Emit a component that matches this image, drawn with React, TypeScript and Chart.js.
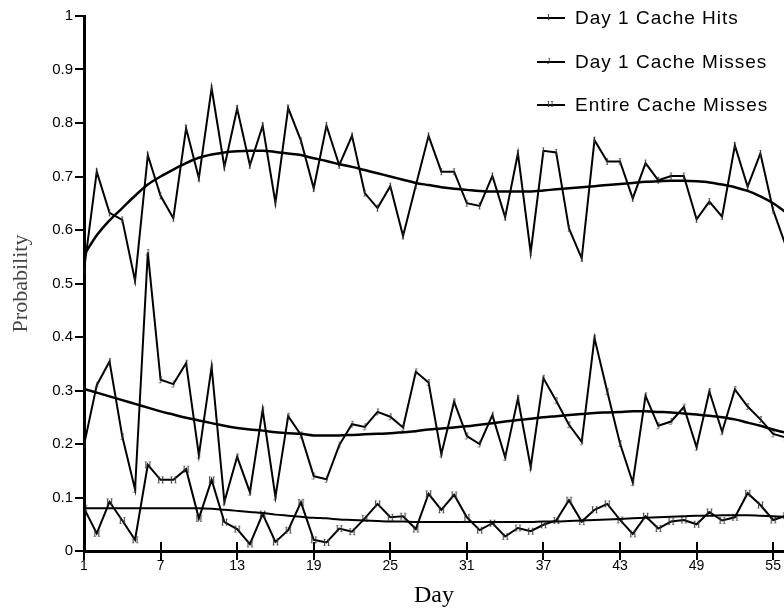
import React, { useEffect, useRef } from 'react';
import { Chart, registerables } from 'chart.js';

Chart.register(...registerables);

const DAYS = [1, 2, 3, 4, 5, 6, 7, 8, 9, 10, 11, 12, 13, 14, 15, 16, 17, 18, 19, 20, 21, 22, 23, 24, 25, 26, 27, 28, 29, 30, 31, 32, 33, 34, 35, 36, 37, 38, 39, 40, 41, 42, 43, 44, 45, 46, 47, 48, 49, 50, 51, 52, 53, 54, 55, 56];
const X_TICKS = [1, 7, 13, 19, 25, 31, 37, 43, 49, 55];
const Y_TICKS = [0, 0.1, 0.2, 0.3, 0.4, 0.5, 0.6, 0.7, 0.8, 0.9, 1];

const LABELS = ['Day 1 Cache Hits', 'Day 1 Cache Misses', 'Entire Cache Misses'];
const MARKERS = ['I', 'J', 'H'];

const HITS = [0.525, 0.709, 0.632, 0.619, 0.505, 0.74, 0.664, 0.622, 0.79, 0.697, 0.865, 0.718, 0.827, 0.721, 0.795, 0.651, 0.828, 0.767, 0.678, 0.795, 0.721, 0.776, 0.669, 0.641, 0.682, 0.589, 0.683, 0.776, 0.709, 0.709, 0.65, 0.645, 0.701, 0.624, 0.743, 0.558, 0.748, 0.745, 0.603, 0.547, 0.768, 0.728, 0.728, 0.659, 0.725, 0.693, 0.701, 0.701, 0.62, 0.653, 0.625, 0.758, 0.681, 0.743, 0.637, 0.57];
const MISSES = [0.198, 0.31, 0.354, 0.214, 0.115, 0.558, 0.32, 0.312, 0.351, 0.179, 0.344, 0.092, 0.176, 0.11, 0.264, 0.101, 0.252, 0.217, 0.14, 0.134, 0.198, 0.237, 0.232, 0.26, 0.251, 0.231, 0.335, 0.315, 0.181, 0.279, 0.215, 0.2, 0.254, 0.175, 0.285, 0.157, 0.323, 0.281, 0.236, 0.204, 0.398, 0.298, 0.201, 0.128, 0.29, 0.234, 0.242, 0.269, 0.194, 0.298, 0.223, 0.302, 0.27, 0.246, 0.219, 0.212];
const ENTIRE = [0.08, 0.033, 0.092, 0.057, 0.021, 0.161, 0.133, 0.133, 0.153, 0.061, 0.133, 0.054, 0.041, 0.013, 0.069, 0.017, 0.039, 0.091, 0.021, 0.016, 0.042, 0.036, 0.061, 0.088, 0.063, 0.065, 0.041, 0.107, 0.077, 0.105, 0.063, 0.039, 0.052, 0.027, 0.043, 0.037, 0.049, 0.057, 0.095, 0.055, 0.077, 0.088, 0.058, 0.032, 0.065, 0.042, 0.055, 0.058, 0.05, 0.073, 0.057, 0.063, 0.108, 0.086, 0.058, 0.066];

const HITS_TREND = [0.553, 0.59, 0.618, 0.641, 0.664, 0.685, 0.7, 0.713, 0.725, 0.735, 0.741, 0.745, 0.747, 0.748, 0.748, 0.746, 0.743, 0.74, 0.734, 0.729, 0.723, 0.718, 0.712, 0.706, 0.7, 0.694, 0.688, 0.684, 0.68, 0.677, 0.675, 0.673, 0.672, 0.672, 0.672, 0.672, 0.674, 0.676, 0.678, 0.68, 0.682, 0.684, 0.686, 0.688, 0.69, 0.691, 0.692, 0.692, 0.691, 0.689, 0.685, 0.68, 0.673, 0.663, 0.65, 0.633];
const MISSES_TREND = [0.303, 0.296, 0.289, 0.282, 0.275, 0.268, 0.261, 0.255, 0.249, 0.244, 0.239, 0.234, 0.23, 0.227, 0.225, 0.222, 0.22, 0.219, 0.216, 0.216, 0.216, 0.217, 0.218, 0.219, 0.22, 0.222, 0.224, 0.227, 0.229, 0.231, 0.233, 0.236, 0.239, 0.242, 0.245, 0.247, 0.25, 0.252, 0.254, 0.256, 0.258, 0.259, 0.26, 0.261, 0.261, 0.26, 0.259, 0.257, 0.255, 0.253, 0.25, 0.246, 0.24, 0.234, 0.227, 0.221];
const ENTIRE_TREND = [0.08, 0.08, 0.08, 0.08, 0.08, 0.08, 0.08, 0.08, 0.08, 0.08, 0.079, 0.077, 0.075, 0.073, 0.071, 0.068, 0.066, 0.064, 0.062, 0.061, 0.059, 0.058, 0.057, 0.056, 0.055, 0.055, 0.054, 0.054, 0.054, 0.054, 0.054, 0.054, 0.054, 0.054, 0.054, 0.054, 0.055, 0.055, 0.056, 0.057, 0.058, 0.059, 0.06, 0.061, 0.062, 0.063, 0.064, 0.065, 0.066, 0.066, 0.067, 0.067, 0.067, 0.066, 0.065, 0.064];

const SANS = '"Liberation Sans", Arial, sans-serif';
const SERIF = '"Liberation Serif", "Times New Roman", serif';

function makeMarker(ch: string): HTMLCanvasElement {
  const c = document.createElement('canvas');
  c.width = 9;
  c.height = 11;
  const ctx = c.getContext('2d')!;
  ctx.fillStyle = '#333';
  ctx.font = '10px ' + SERIF;
  ctx.textAlign = 'center';
  ctx.textBaseline = 'middle';
  ctx.fillText(ch, 4.5, 6);
  return c;
}

const pts = (vals: number[]) => DAYS.map((d, i) => ({ x: d, y: vals[i] }));

const crossTicks = {
  id: 'crossTicks',
  afterDraw(chart: any) {
    const xs = chart.scales.x;
    const { ctx, chartArea } = chart;
    ctx.save();
    ctx.strokeStyle = '#000';
    ctx.lineWidth = 2;
    X_TICKS.forEach((v) => {
      const px = Math.round(xs.getPixelForValue(v));
      ctx.beginPath();
      ctx.moveTo(px, chartArea.bottom - 9);
      ctx.lineTo(px, chartArea.bottom + 9);
      ctx.stroke();
    });
    ctx.restore();
  },
};

export default function App() {
  const ref = useRef<HTMLCanvasElement>(null);

  useEffect(() => {
    const markers = MARKERS.map(makeMarker);
    const series = [HITS, MISSES, ENTIRE];
    const trends = [HITS_TREND, MISSES_TREND, ENTIRE_TREND];
    const datasets: any[] = [];
    trends.forEach((t, i) => {
      datasets.push({
        label: LABELS[i] + ' trend',
        data: pts(t),
        borderColor: '#000',
        borderWidth: i === 2 ? 2 : 2.5,
        pointRadius: 0,
        cubicInterpolationMode: 'monotone',
        fill: false,
      });
    });
    series.forEach((s, i) => {
      datasets.push({
        label: LABELS[i],
        data: pts(s),
        borderColor: '#000',
        borderWidth: 2,
        pointStyle: markers[i],
        pointRadius: 3,
        tension: 0,
        fill: false,
      });
    });

    const chart = new Chart(ref.current!, {
      type: 'line',
      data: { datasets },
      plugins: [crossTicks],
      options: {
        animation: false,
        responsive: false,
        layout: { autoPadding: false, padding: { top: 16, right: 0, left: 0, bottom: 0 } },
        plugins: { legend: { display: false }, tooltip: { enabled: false } },
        scales: {
          x: {
            type: 'linear',
            min: 1,
            max: 55.85,
            afterBuildTicks: (s: any) => {
              s.ticks = X_TICKS.map((v) => ({ value: v }));
            },
            afterFit: (s: any) => {
              s.height = 63;
              s.paddingRight = 0;
              s.paddingLeft = 0;
            },
            grid: { display: true, drawOnChartArea: false, drawTicks: false },
            border: { display: true, color: '#000', width: 3 },
            ticks: {
              color: '#000',
              padding: 7,
              autoSkip: false,
              maxRotation: 0,
              font: { family: SANS, size: 14 },
              callback: (v: any) => String(v),
            },
            title: {
              display: true,
              text: 'Day',
              color: '#000',
              font: { family: SERIF, size: 24 },
              padding: { top: 0, bottom: 4 },
            },
          },
          y: {
            type: 'linear',
            min: 0,
            max: 1,
            afterBuildTicks: (s: any) => {
              s.ticks = Y_TICKS.map((v) => ({ value: v }));
            },
            afterFit: (s: any) => {
              s.width = 84;
              s.paddingTop = 0;
              s.paddingBottom = 0;
            },
            grid: { display: true, drawOnChartArea: false, drawTicks: true, tickLength: 9, color: '#000', lineWidth: 2 },
            border: { display: true, color: '#000', width: 3 },
            ticks: {
              color: '#000',
              padding: 2,
              font: { family: SANS, size: 15 },
              callback: (v: any) => String(Math.round(v * 10) / 10),
            },
            title: {
              display: true,
              text: 'Probability',
              color: '#444',
              font: { family: SERIF, size: 22 },
              padding: { top: 8, bottom: 0 },
            },
          },
        },
      },
    });
    return () => chart.destroy();
  }, []);

  const rowY = [18, 62, 105];

  return (
    <div style={{ position: 'absolute', left: 0, top: 0, width: 784, height: 614, overflow: 'hidden', background: '#fff' }}>
      <canvas ref={ref} width={784} height={614} style={{ display: 'block', width: 784, height: 614 }} />
      {LABELS.map((lab, i) => (
        <div
          key={lab}
          style={{
            position: 'absolute',
            left: 537,
            top: rowY[i] - 12,
            height: 24,
            display: 'flex',
            alignItems: 'center',
            whiteSpace: 'nowrap',
          }}
        >
          <div style={{ position: 'relative', width: 28, height: 2, background: '#000' }}>
            <span
              style={{
                position: 'absolute',
                left: 10,
                top: -7,
                fontFamily: SERIF,
                fontSize: 9,
                lineHeight: '14px',
                color: '#333',
                background: 'transparent',
              }}
            >
              {MARKERS[i]}
            </span>
          </div>
          <span style={{ marginLeft: 10, fontFamily: SANS, fontSize: 19, letterSpacing: 1, color: '#000' }}>{lab}</span>
        </div>
      ))}
    </div>
  );
}
